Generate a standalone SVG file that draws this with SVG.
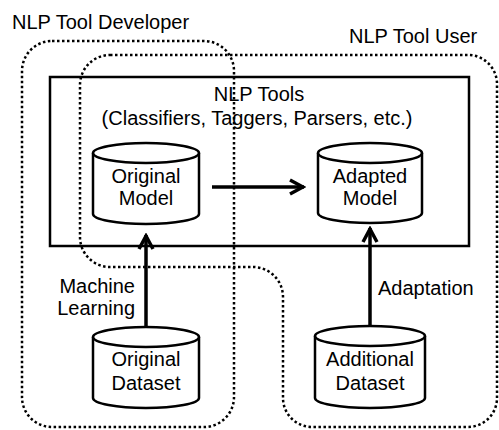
<svg xmlns="http://www.w3.org/2000/svg" width="499" height="430" viewBox="0 0 499 430">
<defs>
<style>
text{font-family:"Liberation Sans",Arial,sans-serif;font-size:20px;fill:#000}
.dot{fill:none;stroke:#000;stroke-width:2.5;stroke-dasharray:2.5 2.5}
.cyl{fill:#fff;stroke:#000;stroke-width:2.5}
.arr{fill:none;stroke:#000;stroke-width:3.5}
</style>
<marker id="ah" markerUnits="userSpaceOnUse" viewBox="0 0 18 18" refX="16" refY="9" markerWidth="18" markerHeight="18" orient="auto">
<path d="M2,2 L15,9 L2,16" fill="none" stroke="#000" stroke-width="3.5"/>
</marker>
</defs>
<rect id="bg" x="0" y="0" width="499" height="430" fill="#fff"/>
<g id="developer">
<rect class="dot" x="22" y="41" width="212" height="386" rx="30"/>
<text x="12" y="29">NLP Tool Developer</text>
</g>
<g id="user">
<path class="dot" d="M110,55 H468 A29,29 0 0 1 497,84 V398 A29,29 0 0 1 468,427 H312 A29,29 0 0 1 283,398 V297 A30,30 0 0 0 253,267 H110 A30,30 0 0 1 80,237 V85 A30,30 0 0 1 110,55 Z"/>
<text x="349" y="43">NLP Tool User</text>
</g>
<g id="tools">
<rect x="50" y="77" width="419" height="169" fill="none" stroke="#000" stroke-width="2.5"/>
<text x="259" y="101" text-anchor="middle">NLP Tools</text>
<text x="257" y="125" text-anchor="middle">(Classifiers, Taggers, Parsers, etc.)</text>
</g>
<g id="original-model">
<path class="cyl" d="M93,153 V214 A53,10 0 0 0 199,214 V153"/>
<ellipse class="cyl" cx="146" cy="153" rx="53" ry="10"/>
<text x="146" y="183" text-anchor="middle">Original</text>
<text x="146" y="205" text-anchor="middle">Model</text>
</g>
<g id="adapted-model">
<path class="cyl" d="M318,153 V213 A52,10 0 0 0 422,213 V153"/>
<ellipse class="cyl" cx="370" cy="153" rx="52" ry="10"/>
<text x="370" y="183" text-anchor="middle">Adapted</text>
<text x="370" y="205" text-anchor="middle">Model</text>
</g>
<g id="original-dataset">
<path class="cyl" d="M93,337 V398 A53,10 0 0 0 199,398 V337"/>
<ellipse class="cyl" cx="146" cy="337" rx="53" ry="10"/>
<text x="146" y="366" text-anchor="middle">Original</text>
<text x="146" y="390" text-anchor="middle">Dataset</text>
</g>
<g id="additional-dataset">
<path class="cyl" d="M315,336 V398 A55,10 0 0 0 425,398 V336"/>
<ellipse class="cyl" cx="370" cy="336" rx="55" ry="10"/>
<text x="370" y="366" text-anchor="middle">Additional</text>
<text x="370" y="390" text-anchor="middle">Dataset</text>
</g>
<g id="connectors">
<line class="arr" x1="146" y1="326" x2="146" y2="235" marker-end="url(#ah)"/>
<line class="arr" x1="212" y1="187" x2="304" y2="187" marker-end="url(#ah)"/>
<line class="arr" x1="370" y1="326" x2="370" y2="228" marker-end="url(#ah)"/>
<text x="135" y="293" text-anchor="end">Machine</text>
<text x="135" y="315" text-anchor="end">Learning</text>
<text x="378" y="295">Adaptation</text>
</g>
</svg>
